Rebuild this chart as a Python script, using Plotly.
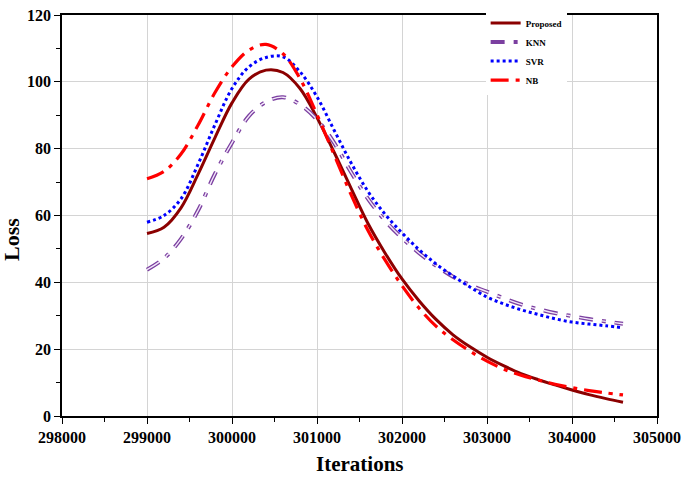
import plotly.graph_objects as go

iterations = [299000, 299200, 299400, 299600, 299800, 300000, 300200, 300400, 300600, 300800,
              301000, 301200, 301400, 301600, 301800, 302000, 302200, 302400, 302600, 302800,
              303000, 303200, 303400, 303600, 303800, 304000, 304200, 304400, 304600]

proposed = [54.6, 56.5, 62.3, 72.3, 83.3, 93.7, 100.8, 103.5, 102.8, 98.0,
            89.3, 79.0, 68.2, 57.6, 48.8, 41.0, 34.5, 28.9, 24.3, 20.7,
            17.6, 15.0, 12.7, 10.9, 9.3, 7.8, 6.4, 5.2, 4.1]

knn = [43.8, 47.2, 53.0, 61.5, 72.5, 81.8, 89.8, 94.0, 95.4, 93.2,
       88.7, 81.8, 73.0, 65.0, 58.5, 53.3, 48.8, 45.0, 41.7, 39.2,
       37.2, 35.2, 33.4, 32.0, 30.8, 29.9, 29.0, 28.3, 27.6]

svr = [58.0, 60.0, 65.0, 75.3, 87.2, 98.0, 104.5, 107.3, 107.5, 103.0,
       95.5, 85.6, 75.8, 67.2, 60.4, 54.8, 49.8, 45.5, 41.9, 38.6,
       35.6, 33.5, 31.8, 30.4, 29.1, 28.1, 27.5, 27.0, 26.4]

nb = [71.0, 73.2, 78.4, 87.0, 96.8, 104.5, 109.5, 111.2, 108.4, 101.0,
      90.2, 78.3, 66.3, 55.5, 46.7, 39.0, 32.3, 26.9, 22.8, 19.4,
      16.4, 14.0, 12.2, 10.8, 9.5, 8.5, 7.6, 6.9, 6.3]

x_ticks = [298000, 299000, 300000, 301000, 302000, 303000, 304000, 305000]
y_ticks = [0, 20, 40, 60, 80, 100, 120]

SERIF = "Liberation Serif"

fig = go.Figure()

fig.add_trace(go.Scatter(x=iterations, y=proposed, mode="lines", name="Proposed",
                         line=dict(color="#8B0000", width=3, shape="spline")))
fig.add_trace(go.Scatter(x=iterations, y=knn, mode="lines", name="KNN",
                         line=dict(color="#7B3FA0", width=4, shape="spline",
                                   dash="14px,9px,4px,9px")))
fig.add_trace(go.Scatter(x=iterations, y=knn, mode="lines", name="KNN", showlegend=False,
                         hoverinfo="skip",
                         line=dict(color="#F3E8FA", width=1.4, shape="spline",
                                   dash="14px,9px,4px,9px")))
fig.add_trace(go.Scatter(x=iterations, y=svr, mode="lines", name="SVR",
                         line=dict(color="#0000FF", width=3, shape="spline", dash="dot")))
fig.add_trace(go.Scatter(x=iterations, y=nb, mode="lines", name="NB",
                         line=dict(color="#FF0000", width=3.2, shape="spline",
                                   dash="18px,7px,4px,7px")))

axis_common = dict(
    showline=True, linecolor="black", linewidth=1.6, mirror=True,
    ticks="outside", ticklen=6, tickwidth=1.4, tickcolor="black",
    showgrid=True, gridcolor="#d4d4d4", gridwidth=1,
    zeroline=False, automargin=False,
    tickfont=dict(family=SERIF, size=16, color="black", weight="bold"),
)

fig.update_xaxes(range=[298000, 305000], tickvals=x_ticks,
                 ticktext=[str(v) for v in x_ticks],
                 minor=dict(ticks="outside", dtick=500, ticklen=4, tickwidth=1.4,
                            tickcolor="black", showgrid=False),
                 **axis_common)
fig.update_yaxes(range=[0, 120], tickvals=y_ticks,
                 minor=dict(ticks="outside", dtick=10, ticklen=4, tickwidth=1.4,
                            tickcolor="black", showgrid=False),
                 **axis_common)

fig.update_layout(
    width=685, height=477,
    margin=dict(l=62, r=28, t=9, b=61),
    paper_bgcolor="white", plot_bgcolor="white",
    showlegend=True,
    legend=dict(x=0.712, y=1.016, xanchor="left", yanchor="top",
                bgcolor="white", borderwidth=0,
                font=dict(family=SERIF, size=9, color="black", weight="bold"),
                tracegroupgap=0),
    annotations=[
        dict(text="Iterations", xref="paper", yref="paper", x=0.50, y=-0.12,
             xanchor="center", yanchor="middle", showarrow=False,
             font=dict(family=SERIF, size=21, color="black", weight="bold")),
        dict(text="Loss", xref="paper", yref="paper", x=-0.085, y=0.44,
             xanchor="center", yanchor="middle", showarrow=False, textangle=-90,
             font=dict(family=SERIF, size=22, color="black", weight="bold")),
    ],
)

fig.write_html("out.html", config={"displayModeBar": False},
               post_script="document.body.style.margin='0';")
